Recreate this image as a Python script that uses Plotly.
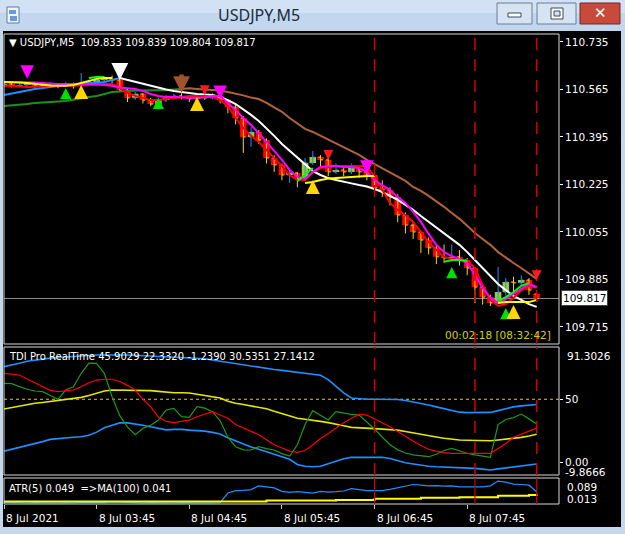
import plotly.graph_objects as go

W, H = 625, 534
def px(x): return x / W
def py(y): return 1 - y / H

# ---------------- data ----------------
bars = list(range(70))
tick_bars = [0, 12, 24, 36, 48, 60]
tick_labels = ["8 Jul 2021", "8 Jul 03:45", "8 Jul 04:45", "8 Jul 05:45", "8 Jul 06:45", "8 Jul 07:45"]
price_ticks = [110.735, 110.565, 110.395, 110.225, 110.055, 109.885, 109.715]
vline_bars = [48, 61, 69]

opens = [110.581, 110.585, 110.578, 110.581, 110.585, 110.578, 110.574, 110.581, 110.578, 110.585,
         110.578, 110.588, 110.592, 110.599, 110.603, 110.599, 110.563, 110.535, 110.549, 110.527,
         110.513, 110.527, 110.535, 110.542, 110.538, 110.531, 110.538, 110.535, 110.542, 110.527,
         110.502, 110.463, 110.395, 110.413, 110.384, 110.320, 110.295, 110.259, 110.266, 110.248,
         110.302, 110.323, 110.313, 110.270, 110.277, 110.270, 110.284, 110.270, 110.259, 110.213,
         110.205, 110.180, 110.116, 110.080, 110.055, 110.026, 109.998, 109.966, 109.962, 109.966,
         109.955, 109.926, 109.858, 109.822, 109.801, 109.840, 109.876, 109.873, 109.883, 109.833]
highs = [110.590, 110.588, 110.586, 110.590, 110.588, 110.582, 110.590, 110.585, 110.592, 110.590,
         110.624, 110.600, 110.610, 110.612, 110.615, 110.606, 110.570, 110.556, 110.552, 110.535,
         110.535, 110.545, 110.549, 110.552, 110.545, 110.545, 110.549, 110.552, 110.545, 110.531,
         110.510, 110.470, 110.430, 110.420, 110.390, 110.330, 110.300, 110.280, 110.270, 110.320,
         110.345, 110.330, 110.320, 110.300, 110.290, 110.300, 110.288, 110.280, 110.265, 110.240,
         110.215, 110.190, 110.125, 110.090, 110.060, 110.035, 110.005, 110.010, 110.010, 109.990,
         109.962, 109.930, 109.865, 109.830, 109.930, 109.890, 109.895, 109.900, 109.890, 109.839]
lows = [110.576, 110.572, 110.574, 110.578, 110.570, 110.566, 110.572, 110.570, 110.575, 110.568,
        110.574, 110.580, 110.585, 110.592, 110.588, 110.556, 110.520, 110.528, 110.515, 110.505,
        110.508, 110.520, 110.528, 110.530, 110.520, 110.525, 110.528, 110.530, 110.515, 110.480,
        110.440, 110.338, 110.360, 110.370, 110.300, 110.270, 110.240, 110.230, 110.215, 110.240,
        110.295, 110.290, 110.255, 110.262, 110.255, 110.262, 110.250, 110.240, 110.195, 110.180,
        110.150, 110.090, 110.050, 110.030, 109.980, 109.975, 109.940, 109.945, 109.950, 109.935,
        109.900, 109.800, 109.795, 109.790, 109.795, 109.825, 109.830, 109.860, 109.830, 109.804]
closes = [110.585, 110.578, 110.581, 110.585, 110.578, 110.574, 110.581, 110.578, 110.585, 110.578,
          110.588, 110.592, 110.599, 110.603, 110.599, 110.563, 110.535, 110.549, 110.527, 110.513,
          110.527, 110.535, 110.542, 110.538, 110.531, 110.538, 110.535, 110.542, 110.527, 110.502,
          110.463, 110.395, 110.413, 110.384, 110.320, 110.295, 110.259, 110.266, 110.248, 110.302,
          110.323, 110.313, 110.270, 110.277, 110.270, 110.284, 110.270, 110.259, 110.213, 110.205,
          110.180, 110.116, 110.080, 110.055, 110.026, 109.998, 109.966, 109.962, 109.966, 109.955,
          109.926, 109.858, 109.822, 109.801, 109.840, 109.876, 109.873, 109.883, 109.847, 109.817]

blue_ma = [110.545, 110.551, 110.556, 110.561, 110.567, 110.570, 110.574, 110.578, 110.581, 110.583,
           110.585, 110.586, 110.588, 110.592, 110.599, 110.606]            # bars 0-15
white_ma = [110.606, 110.599, 110.592, 110.585, 110.578, 110.570, 110.565, 110.560, 110.556, 110.553,
            110.549, 110.547, 110.545, 110.538, 110.527, 110.513, 110.495, 110.474, 110.452, 110.427,
            110.399, 110.370, 110.345, 110.320, 110.295, 110.273, 110.259, 110.248, 110.241, 110.234,
            110.229, 110.223, 110.218, 110.209, 110.198, 110.184, 110.170, 110.152, 110.134, 110.112,
            110.091, 110.069, 110.048, 110.030, 110.009, 109.983, 109.955, 109.926, 109.898, 109.869,
            109.847, 109.826, 109.812, 109.797, 109.787]                      # bars 15-69
green_ma = [110.506, 110.508, 110.510, 110.513, 110.517, 110.518, 110.520, 110.522, 110.524, 110.529,
            110.535, 110.538, 110.542, 110.549, 110.556, 110.558, 110.560, 110.561, 110.561, 110.561,
            110.563, 110.563, 110.565, 110.567]                                # bars 0-23
brown_ma = [110.567, 110.569, 110.567, 110.565, 110.563, 110.561, 110.556, 110.551, 110.544, 110.536,
            110.531, 110.517, 110.502, 110.485, 110.463, 110.442, 110.424, 110.413, 110.399, 110.384,
            110.370, 110.359, 110.345, 110.331, 110.313, 110.298, 110.284, 110.270, 110.255, 110.238,
            110.216, 110.202, 110.184, 110.166, 110.145, 110.123, 110.102, 110.077, 110.051, 110.030,
            110.009, 109.983, 109.962, 109.944, 109.926, 109.905, 109.887]     # bars 23-69
magenta_ma = [110.592, 110.592, 110.592, 110.592, 110.590, 110.588, 110.586, 110.585, 110.585, 110.585,
              110.585, 110.585, 110.585, 110.581, 110.578, 110.572, 110.570, 110.567, 110.560, 110.549,
              110.542, 110.538, 110.538, 110.536, 110.535, 110.535, 110.536, 110.542, 110.542, 110.517,
              110.492, 110.463, 110.438, 110.409, 110.377, 110.349, 110.313, 110.277, 110.252, 110.245,
              110.270, 110.288, 110.291, 110.291, 110.288, 110.288, 110.284, 110.270, 110.241, 110.223,
              110.205, 110.180, 110.159, 110.127, 110.091, 110.048, 110.009, 109.983, 109.969, 109.958,
              109.944, 109.901, 109.855, 109.819, 109.801, 109.815, 109.833, 109.851, 109.869, 109.858]
red_ma = [110.578, 110.578, 110.576, 110.574, 110.574, 110.576, 110.578, 110.578, 110.578, 110.578,
          110.579, 110.581, 110.581, 110.585, 110.585, 110.570, 110.553, 110.542, 110.535, 110.527,
          110.527, 110.531, 110.535, 110.538, 110.542, 110.542, 110.542, 110.538, 110.527, 110.506,
          110.463, 110.427, 110.399, 110.377, 110.349, 110.320, 110.291, 110.259, 110.241, 110.241,
          110.270, 110.284, 110.288, 110.291, 110.291, 110.291, 110.291, 110.291, 110.252, 110.205,
          110.159, 110.134, 110.116, 110.091, 110.055, 110.019, 109.991, 109.966, 109.958, 109.955,
          109.955, 109.926, 109.865, 109.812, 109.790, 109.797, 109.819, 109.847, 109.862, 109.855]
lime_bars = [11, 12, 13, None, 38, 39, 40, None, 57, 58, 59, 60, None, 64, 65, 66, 67, 68]
lime_vals = [110.606, 110.610, 110.610, None, 110.238, 110.259, 110.284, None,
             109.948, 109.955, 109.955, 109.951, None, 109.808, 109.822, 109.840, 109.862, 109.873]
yellow_bars = [0, 1, 2, 3, 4, 5, 6, 7, 8, 9, 10, 11, 12, 13, 14, None,
               39, 40, 41, 42, 43, 44, 45, 46, 47, 48, None, 64, 65, 66, 67, 68, 69]
yellow_vals = [110.592, 110.592, 110.590, 110.588, 110.585, 110.581, 110.579, 110.578, 110.578, 110.581,
               110.588, 110.595, 110.603, 110.606, 110.606, None,
               110.230, 110.234, 110.241, 110.246, 110.248, 110.250, 110.252, 110.254, 110.255, 110.255,
               None, 109.801, 109.804, 109.804, 109.804, 109.804, 109.812]

sig_bars = [3, 8, 10, 15, 20, 23, 25, 26, 28, 40, 42, 47, 58, 65, 66, 69]
sig_prices = [110.603, 110.570, 110.581, 110.599, 110.535, 110.552, 110.538, 110.545, 110.531,
              110.241, 110.313, 110.263, 109.930, 109.783, 109.794, 109.883]
sig_kinds = ["magenta", "green", "yellow", "white", "green", "brown", "yellow", "red", "magenta",
             "yellow", "red", "magenta", "green", "green", "yellow", "red"]

tdi_upper = [75.8, 77, 78.5, 80, 81, 82, 82.5, 83, 83.5, 84, 84.5, 85, 85, 85, 85.2, 85, 85, 84.8, 84.5, 84.5,
             84.2, 84, 83.5, 83.2, 83, 82.6, 82, 81, 80, 79, 78, 77.1, 76.5, 75.5, 74.5, 73.5, 72.8, 72, 71.5, 70.5,
             70, 69, 65.5, 60, 55, 51, 50.2, 50, 50, 50, 50, 49.8, 49, 48, 47, 45.5, 44, 42.5, 41, 39.8,
             39.4, 39.4, 39.4, 39.6, 41, 42.5, 44, 44.8, 45.5, 45.9029]
tdi_mid = [42.3, 43.5, 44.5, 45.5, 46.8, 47.5, 48.2, 48.9, 49.5, 50.3, 51.5, 53, 55, 56.5, 57.3, 57.3, 57.3, 57.3, 57, 56.8,
           56.2, 55.5, 55.2, 55.2, 55, 54, 53, 52.3, 51, 48.5, 46.8, 45.8, 44.8, 43.5, 42.5, 40.5, 38.5, 36.5, 35, 34.2,
           33.6, 32.5, 31.5, 30.5, 29, 27.8, 27.3, 27, 26.8, 26.4, 26, 25.6, 24.5, 23.3, 22.3, 21.2, 20.2, 19.2, 18.2, 17.8,
           17.6, 17.4, 17.2, 17.2, 17.8, 18.4, 19.2, 19.9, 21, 22.332]
tdi_lower = [9.0, 10.5, 11.8, 13.0, 14.5, 16.5, 18.3, 19.0, 19.6, 20.0, 20.4, 21.5, 24.0, 27.5, 29.5, 31.3, 31.3, 30.5, 29.5, 28.3,
             27.0, 25.8, 26.2, 26.2, 25.6, 25.2, 24.8, 23.8, 22.5, 19.5, 17.0, 14.8, 12.3, 10.5, 8.6, 6.6, 4.5, 2.5, -1.5, -3.0,
             -3.3, -3.0, -1.0, 1.0, 3.0, 4.1, 4.1, 4.1, 4.1, 4.1, 3.2, 1.2, -0.2, -1.2, -2.2, -3.0, -3.4, -3.6, -3.9, -4.1,
             -4.4, -4.6, -5.2, -5.9, -5.0, -4.2, -3.4, -2.6, -1.9, -1.239]
tdi_signal = [70.5, 70, 69.2, 66, 63, 60, 57, 56, 56.5, 57.3, 60, 63, 65.2, 65.8, 65.8, 64, 61, 57.3, 50, 44,
              36, 32.5, 31.5, 32.3, 33.5, 36.2, 38.5, 40.2, 37.5, 35, 30, 27.5, 25, 22, 18, 14, 11.5, 9, 8, 9.5,
              14, 19, 23, 27.5, 31.5, 35, 38, 37.5, 34.5, 31.5, 28.3, 24.5, 20.5, 17, 13.5, 10.5, 9, 7.8, 7.3, 7.3,
              7.3, 7.3, 7.3, 7.3, 11, 15, 20, 22.5, 24.8, 27.1412]
tdi_rsi = [62.6, 62.3, 60, 57.9, 56.5, 56, 53, 50, 57.3, 59.9, 70.5, 78.5, 78.4, 70.5, 52, 37, 28, 22, 27, 29.5,
           33.6, 41.5, 42.8, 36.2, 35.7, 44.1, 43, 40.2, 33, 20, 12.5, 10, 9.9, 12.5, 11, 9.9, 7, 5.1, 14, 30,
           41, 37, 33.6, 40.2, 39, 38, 37.5, 32, 26.5, 20, 14, 10, 7.5, 6, 5.5, 4.6, 6.5, 9.5, 11.2, 9,
           7.3, 6, 5, 4.1, 30, 34, 35.5, 38.3, 34.5, 30.5351]

atr = [0.018, 0.017, 0.016, 0.016, 0.017, 0.016, 0.015, 0.016, 0.017, 0.016,
       0.018, 0.017, 0.016, 0.017, 0.019, 0.018, 0.017, 0.016, 0.016, 0.017,
       0.016, 0.016, 0.016, 0.017, 0.016, 0.016, 0.016, 0.016, 0.017, 0.045,
       0.052, 0.053, 0.055, 0.066, 0.064, 0.060, 0.050, 0.047, 0.049, 0.047,
       0.045, 0.050, 0.048, 0.049, 0.051, 0.058, 0.054, 0.052, 0.052, 0.052,
       0.056, 0.060, 0.066, 0.070, 0.068, 0.066, 0.067, 0.065, 0.066, 0.063,
       0.063, 0.063, 0.063, 0.066, 0.080, 0.077, 0.071, 0.070, 0.068, 0.049]
atr_ma = [0.020, 0.020, 0.020, 0.020, 0.020, 0.020, 0.020, 0.020, 0.020, 0.020,
          0.020, 0.020, 0.020, 0.020, 0.020, 0.020, 0.020, 0.020, 0.020, 0.020,
          0.020, 0.020, 0.020, 0.020, 0.020, 0.020, 0.020, 0.020, 0.020, 0.020,
          0.020, 0.020, 0.020, 0.020, 0.023, 0.023, 0.023, 0.023, 0.023, 0.023,
          0.023, 0.023, 0.023, 0.025, 0.025, 0.025, 0.025, 0.025, 0.028, 0.028,
          0.028, 0.028, 0.028, 0.028, 0.031, 0.031, 0.031, 0.031, 0.031, 0.033,
          0.033, 0.033, 0.033, 0.033, 0.037, 0.037, 0.037, 0.037, 0.039, 0.041]

# ---------------- figure ----------------
FONT = "DejaVu Sans"
FS = 10
fig = go.Figure()

def add_line(xs, ys, color, width, ax="", shape="linear", dash="solid"):
    fig.add_trace(go.Scatter(x=xs, y=ys, mode="lines", connectgaps=False,
                             line=dict(color=color, width=width, shape=shape, dash=dash),
                             xaxis="x" + ax, yaxis="y" + ax, hoverinfo="skip"))

# moving averages (drawn under the candles)
add_line(bars[:24], green_ma, "#1f8f1f", 2)
add_line(bars[23:], brown_ma, "#b0643c", 2)
add_line(bars[:16], blue_ma, "#1e90ff", 2)
add_line(bars[15:], white_ma, "#ffffff", 2)
add_line(bars, red_ma, "#ff0000", 2)
add_line(bars, magenta_ma, "#ff00ff", 2)
add_line(lime_bars, lime_vals, "#00ff00", 2)
add_line(yellow_bars, yellow_vals, "#ffff00", 2)

# price bars (high-low sticks) + candle bodies
fig.add_trace(go.Ohlc(x=bars, open=opens, high=highs, low=lows, close=closes,
                      increasing=dict(line=dict(color="#1e90ff", width=1)),
                      decreasing=dict(line=dict(color="#ffd700", width=1)),
                      tickwidth=0.3, xaxis="x", yaxis="y", hoverinfo="skip"))
fig.add_trace(go.Candlestick(x=bars, open=opens, high=highs, low=lows, close=closes,
                             increasing=dict(line=dict(color="#9acd32", width=0), fillcolor="#9acd32"),
                             decreasing=dict(line=dict(color="#ff0000", width=0), fillcolor="#ff0000"),
                             whiskerwidth=0, xaxis="x", yaxis="y", hoverinfo="skip"))

# TDI
add_line(bars, tdi_upper, "#1e90ff", 1.6, "2")
add_line(bars, tdi_lower, "#1e90ff", 1.6, "2")
add_line(bars, tdi_mid, "#e6e600", 1.6, "2")
add_line(bars, tdi_rsi, "#1a9a1a", 1.2, "2")
add_line(bars, tdi_signal, "#ff0000", 1.2, "2")

# ATR
add_line(bars, atr, "#1e90ff", 1.2, "3")
add_line(bars, atr_ma, "#ffff00", 2, "3", shape="hv")

xdom = [px(4), px(559)]
xr = [0, 71.89]
ax_common = dict(showgrid=False, zeroline=False, showline=False, fixedrange=True)
fig.update_layout(
    width=W, height=H, margin=dict(l=0, r=0, t=0, b=0), autosize=False,
    paper_bgcolor="#c4d7ed", plot_bgcolor="#000000", showlegend=False, hovermode=False,
    boxgap=0.15, boxgroupgap=0.0,
    font=dict(family=FONT, size=FS, color="#ffffff"),
    xaxis=dict(domain=xdom, range=xr, anchor="y", showticklabels=False,
               rangeslider=dict(visible=False), **ax_common),
    xaxis2=dict(domain=xdom, range=xr, anchor="y2", showticklabels=False, **ax_common),
    xaxis3=dict(domain=xdom, range=xr, anchor="y3", showticklabels=False,
                tickvals=tick_bars, ticks="outside", ticklen=4, tickcolor="#c8c8c8", **ax_common),
    yaxis=dict(domain=[py(344), py(34)], range=[109.6541, 110.7636], anchor="x", side="right",
               tickvals=price_ticks, ticktext=["%.3f" % v for v in price_ticks],
               ticks="outside", ticklen=3, tickcolor="#ffffff",
               tickfont=dict(family=FONT, size=10.5, color="#ffffff"), **ax_common),
    yaxis2=dict(domain=[py(475), py(347)], range=[-9.8666, 91.3026], anchor="x2", side="right",
                tickvals=[50, 0], ticktext=["50", "0.00"], ticks="outside", ticklen=3, tickcolor="#ffffff",
                tickfont=dict(family=FONT, size=10.5, color="#ffffff"), **ax_common),
    yaxis3=dict(domain=[py(504), py(478)], range=[0.013, 0.089], anchor="x3", side="right",
                showticklabels=False, **ax_common),
)

shapes = []
def rect(x0, y0, x1, y1, fill=None, line=None, lw=1, layer="below"):
    shapes.append(dict(type="rect", xref="paper", yref="paper", x0=px(x0), x1=px(x1), y0=py(y1), y1=py(y0),
                       fillcolor=fill if fill else "rgba(0,0,0,0)",
                       line=dict(color=line if line else "rgba(0,0,0,0)", width=lw if line else 0),
                       layer=layer))

# window chrome
rect(0, 0, 625, 31, fill="#c2d6ee")
rect(0, 0, 625, 13, fill="#d2e1f3")
rect(3, 31, 621, 527, fill="#000000")
# icon
rect(7, 7, 19, 23, fill="#eef4fb", line="#5a7ea8")
rect(9, 10, 16, 14, fill="#6b9bd1")
rect(10, 16, 17, 21, fill="#6b9bd1")
# buttons
rect(497, 3, 532, 24, fill="#d6e3f2", line="#6c7d95", layer="above")
rect(508, 13, 521, 17, fill="#ffffff", line="#3b4a5e", layer="above")
rect(537, 3, 576, 24, fill="#d6e3f2", line="#6c7d95", layer="above")
rect(551, 8, 563, 19, fill="#ffffff", line="#3b4a5e", layer="above")
rect(554, 11, 560, 16, fill="#d6e3f2", line="#3b4a5e", layer="above")
rect(580, 3, 620, 24, fill="#c9493b", line="#6e2a24", layer="above")
# panel frames
rect(4, 34, 559, 344, line="#d8d8d8", layer="above")
rect(4, 347, 559, 475, line="#d8d8d8", layer="above")
rect(4, 478, 559, 504, line="#d8d8d8", layer="above")

# red vertical markers
for b in vline_bars:
    shapes.append(dict(type="line", xref="x", yref="y domain", x0=b, x1=b, y0=0, y1=1,
                       line=dict(color="#d40000", width=1.5, dash="12px,9px"), layer="above"))
    shapes.append(dict(type="line", xref="x2", yref="y2 domain", x0=b, x1=b, y0=0, y1=1,
                       line=dict(color="#d40000", width=1.5, dash="12px,9px"), layer="above"))
    shapes.append(dict(type="line", xref="x3", yref="y3 domain", x0=b, x1=b, y0=0, y1=1,
                       line=dict(color="#d40000", width=1.2), layer="above"))
# current price line
shapes.append(dict(type="line", xref="x domain", yref="y", x0=0, x1=1, y0=closes[-1], y1=closes[-1],
                   line=dict(color="#8c8c8c", width=1), layer="below"))
# TDI 50 level
shapes.append(dict(type="line", xref="x2 domain", yref="y2", x0=0, x1=1, y0=50, y1=50,
                   line=dict(color="#e8c81a", width=1, dash="3px,3px"), layer="below"))
fig.update_layout(shapes=shapes)

ann = []
def text(x, y, s, color="#ffffff", size=FS, xanchor="left", family=FONT, **kw):
    ann.append(dict(x=px(x), y=py(y), xref="paper", yref="paper", text=s, showarrow=False,
                    xanchor=xanchor, yanchor="middle", font=dict(family=family, size=size, color=color), **kw))

text(259, 15, "USDJPY,M5", color="#1c2a3c", size=16, xanchor="center", family="Noto Sans")
text(600, 13, "✕", color="#ffffff", size=15, xanchor="center", family="DejaVu Sans")
text(7, 43, "▼ USDJPY,M5  %.3f %.3f %.3f %.3f" % (opens[-1], highs[-1], lows[-1], closes[-1]))
text(553, 335, "00:02:18 [08:32:42]", color="#d2d200", size=10.5, xanchor="right")
text(7, 356, "TDI Pro RealTime %.4f %.4f %.4f %.4f %.4f" % (tdi_upper[-1], tdi_mid[-1], tdi_lower[-1],
                                                           tdi_rsi[-1], tdi_signal[-1]))
text(565, 356, "91.3026", size=10.5)
text(563, 472, "-9.8666", size=10.5)
text(7, 488, "ATR(5) %.3f  =>MA(100) %.3f" % (atr[-1], atr_ma[-1]))
text(565, 487, "0.089", size=10.5)
text(565, 499, "0.013", size=10.5)
for b, lab in zip(tick_bars, tick_labels):
    ann.append(dict(x=b, y=py(518), xref="x3", yref="paper", text=lab, showarrow=False,
                    xanchor="left", yanchor="middle", font=dict(family=FONT, size=10.5, color="#ffffff")))
# current price box
ann.append(dict(x=px(561), y=closes[-1], xref="paper", yref="y", text="%.3f" % closes[-1], showarrow=False,
                xanchor="left", yanchor="middle", bgcolor="#ffffff", bordercolor="#404040", borderwidth=1,
                borderpad=1, font=dict(family=FONT, size=10.5, color="#000000")))

# signal arrows: colour, direction, length(px), shaft width, head size
sig_style = {"magenta": ("#ff00ff", -1, 12, 3, 0.9), "green": ("#00e000", 1, 11, 2.5, 0.9),
             "yellow": ("#ffd700", 1, 15, 3.5, 0.8), "white": ("#ffffff", -1, 18, 4.5, 0.75),
             "brown": ("#a0522d", -1, 20, 4.5, 0.75), "red": ("#ff1a1a", -1, 10, 2.2, 0.9)}
for b, p, k in zip(sig_bars, sig_prices, sig_kinds):
    col, d, ln, wd, hs = sig_style[k]
    ann.append(dict(x=b, y=p, xref="x", yref="y", text="", showarrow=True, arrowhead=2, arrowsize=hs,
                    arrowwidth=wd, arrowcolor=col, ax=0, ay=d * ln, standoff=0))

fig.update_layout(annotations=ann)
fig.write_html("out.html")
